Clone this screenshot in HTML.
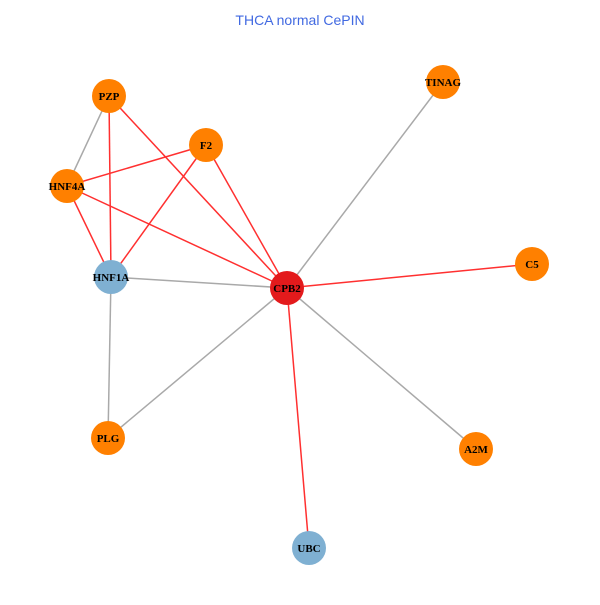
<!DOCTYPE html>
<html><head><style>body{margin:0;background:#fff}</style></head><body>
<svg width="600" height="600" xmlns="http://www.w3.org/2000/svg">
<rect width="600" height="600" fill="#fff"/>
<text x="300" y="25" text-anchor="middle" font-family="Liberation Sans, sans-serif" font-size="14" fill="#4169e1">THCA normal CePIN</text>
<g stroke-width="1.5">
<line x1="109" y1="96" x2="67" y2="186" stroke="#a9a9a9"/>
<line x1="111" y1="277" x2="287" y2="288" stroke="#a9a9a9"/>
<line x1="111" y1="277" x2="108" y2="438" stroke="#a9a9a9"/>
<line x1="108" y1="438" x2="287" y2="288" stroke="#a9a9a9"/>
<line x1="443" y1="82" x2="287" y2="288" stroke="#a9a9a9"/>
<line x1="476" y1="449" x2="287" y2="288" stroke="#a9a9a9"/>
<line x1="109" y1="96" x2="111" y2="277" stroke="#ff3030"/>
<line x1="109" y1="96" x2="287" y2="288" stroke="#ff3030"/>
<line x1="206" y1="145" x2="67" y2="186" stroke="#ff3030"/>
<line x1="206" y1="145" x2="111" y2="277" stroke="#ff3030"/>
<line x1="206" y1="145" x2="287" y2="288" stroke="#ff3030"/>
<line x1="67" y1="186" x2="111" y2="277" stroke="#ff3030"/>
<line x1="67" y1="186" x2="287" y2="288" stroke="#ff3030"/>
<line x1="532" y1="264" x2="287" y2="288" stroke="#ff3030"/>
<line x1="309" y1="548" x2="287" y2="288" stroke="#ff3030"/>
</g>
<g>
<circle cx="109" cy="96" r="17" fill="#ff8000"/>
<circle cx="206" cy="145" r="17" fill="#ff8000"/>
<circle cx="443" cy="82" r="17" fill="#ff8000"/>
<circle cx="67" cy="186" r="17" fill="#ff8000"/>
<circle cx="111" cy="277" r="17" fill="#7fb0d2"/>
<circle cx="287" cy="288" r="17" fill="#e31a1c"/>
<circle cx="532" cy="264" r="17" fill="#ff8000"/>
<circle cx="108" cy="438" r="17" fill="#ff8000"/>
<circle cx="476" cy="449" r="17" fill="#ff8000"/>
<circle cx="309" cy="548" r="17" fill="#7fb0d2"/>
</g>
<g font-family="Liberation Serif, serif" font-weight="bold" font-size="11" text-anchor="middle" fill="#000">
<text x="109" y="100">PZP</text>
<text x="206" y="149">F2</text>
<text x="443" y="86">TINAG</text>
<text x="67" y="190">HNF4A</text>
<text x="111" y="281">HNF1A</text>
<text x="287" y="292">CPB2</text>
<text x="532" y="268">C5</text>
<text x="108" y="442">PLG</text>
<text x="476" y="453">A2M</text>
<text x="309" y="552">UBC</text>
</g>
</svg>
</body></html>
